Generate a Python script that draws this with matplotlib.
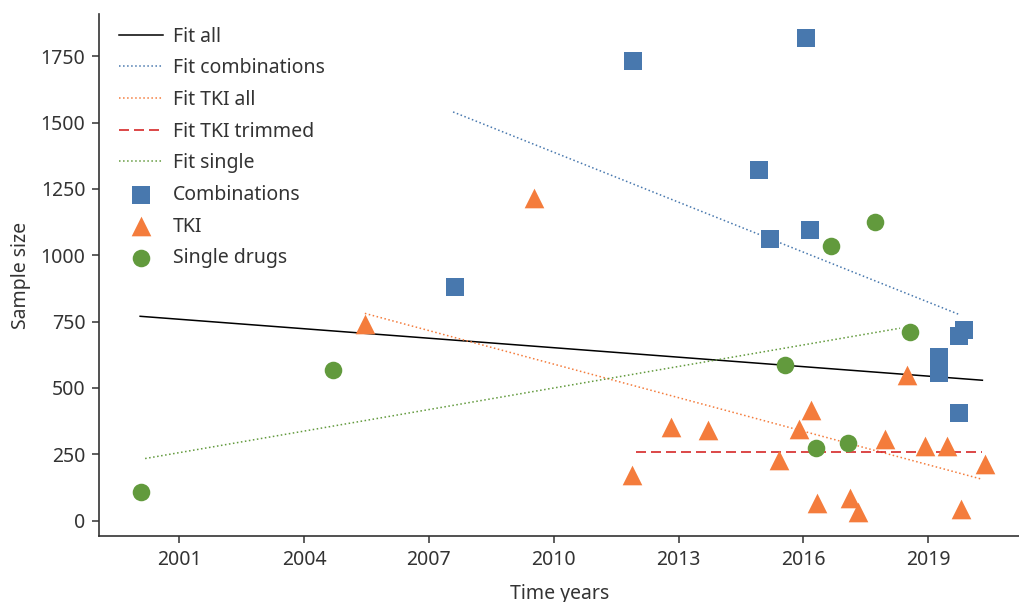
import matplotlib
matplotlib.use("Agg")
import matplotlib.pyplot as plt

plt.rcParams['font.family'] = ['Noto Sans', 'DejaVu Sans']

# Scatter data (year, sample size)
comb_year = [2007.63, 2011.9, 2016.06, 2014.93, 2015.2, 2016.16, 2019.86, 2019.74,
             2019.26, 2019.26, 2019.74]
comb_size = [880, 1732, 1820, 1321, 1061, 1095, 718, 695, 615, 555, 406]

tki_year = [2009.53, 2005.46, 2011.89, 2012.82, 2013.71, 2015.42, 2015.9, 2016.18,
            2016.33, 2017.12, 2017.31, 2017.96, 2018.49, 2018.91, 2019.44, 2019.78,
            2020.37]
tki_size = [1214, 740, 173, 353, 343, 230, 345, 417, 66, 84, 34, 308, 550, 282,
            282, 44, 215]

single_year = [2000.08, 2004.69, 2015.55, 2018.55, 2016.66, 2017.71, 2016.3, 2017.06]
single_size = [107, 568, 585, 710, 1036, 1125, 273, 293]

# Fit line endpoints
fit_all_x = [2000.06, 2020.30]
fit_all_y = [770, 529]
fit_comb_x = [2007.58, 2019.77]
fit_comb_y = [1540, 775]
fit_tki_x = [2005.46, 2020.29]
fit_tki_y = [781, 156]
fit_trim_x = [2011.98, 2020.29]
fit_trim_y = [260, 260]
fit_single_x = [2000.18, 2018.32]
fit_single_y = [234, 725]

x_ticks = [2001, 2004, 2007, 2010, 2013, 2016, 2019]
y_ticks = [0, 250, 500, 750, 1000, 1250, 1500, 1750]

BLUE = '#4878ae'
ORANGE = '#f47c3c'
GREEN = '#629a3d'
RED = '#d62728'
TXT = '#333333'

fig = plt.figure(figsize=(10.19, 6.02), dpi=100)
ax = fig.add_axes([0.0975, 0.1096, 0.9025, 0.8671])

ax.plot(fit_all_x, fit_all_y, color='black', lw=1.1, label='Fit all')
ax.plot(fit_comb_x, fit_comb_y, color=BLUE, lw=1.1, ls=':', label='Fit combinations')
ax.plot(fit_tki_x, fit_tki_y, color=ORANGE, lw=1.1, ls=':', label='Fit TKI all')
ax.plot(fit_trim_x, fit_trim_y, color=RED, lw=1.2, dashes=(6, 3), label='Fit TKI trimmed')
ax.plot(fit_single_x, fit_single_y, color=GREEN, lw=1.1, ls=':', label='Fit single')

ax.scatter(comb_year, comb_size, marker='s', s=175, color=BLUE, lw=0, label='Combinations', zorder=3)
ax.scatter(tki_year, tki_size, marker='^', s=200, color=ORANGE, lw=0, label='TKI', zorder=3)
ax.scatter(single_year, single_size, marker='o', s=160, color=GREEN, lw=0, label='Single drugs', zorder=3)

ax.set_xlim(1999.08, 2021.18)
ax.set_ylim(-58, 1909)
ax.set_xticks(x_ticks)
ax.set_yticks(y_ticks)
ax.tick_params(labelsize=14, colors=TXT, length=5, width=1.1, pad=5)
for side in ['top', 'right']:
    ax.spines[side].set_visible(False)
for side in ['left', 'bottom']:
    ax.spines[side].set_color(TXT)
    ax.spines[side].set_linewidth(1.2)

ax.set_xlabel('Time years', fontsize=14, color=TXT, labelpad=10)
ax.set_ylabel('Sample size', fontsize=14, color=TXT, labelpad=7)

leg = ax.legend(loc='upper left', bbox_to_anchor=(0.013, 0.991), frameon=False,
                fontsize=14, handlelength=2.27, handletextpad=0.5,
                scatterpoints=1, labelspacing=0.6, borderaxespad=0)
for t in leg.get_texts():
    t.set_color(TXT)

fig.savefig('out.png', dpi=100)
